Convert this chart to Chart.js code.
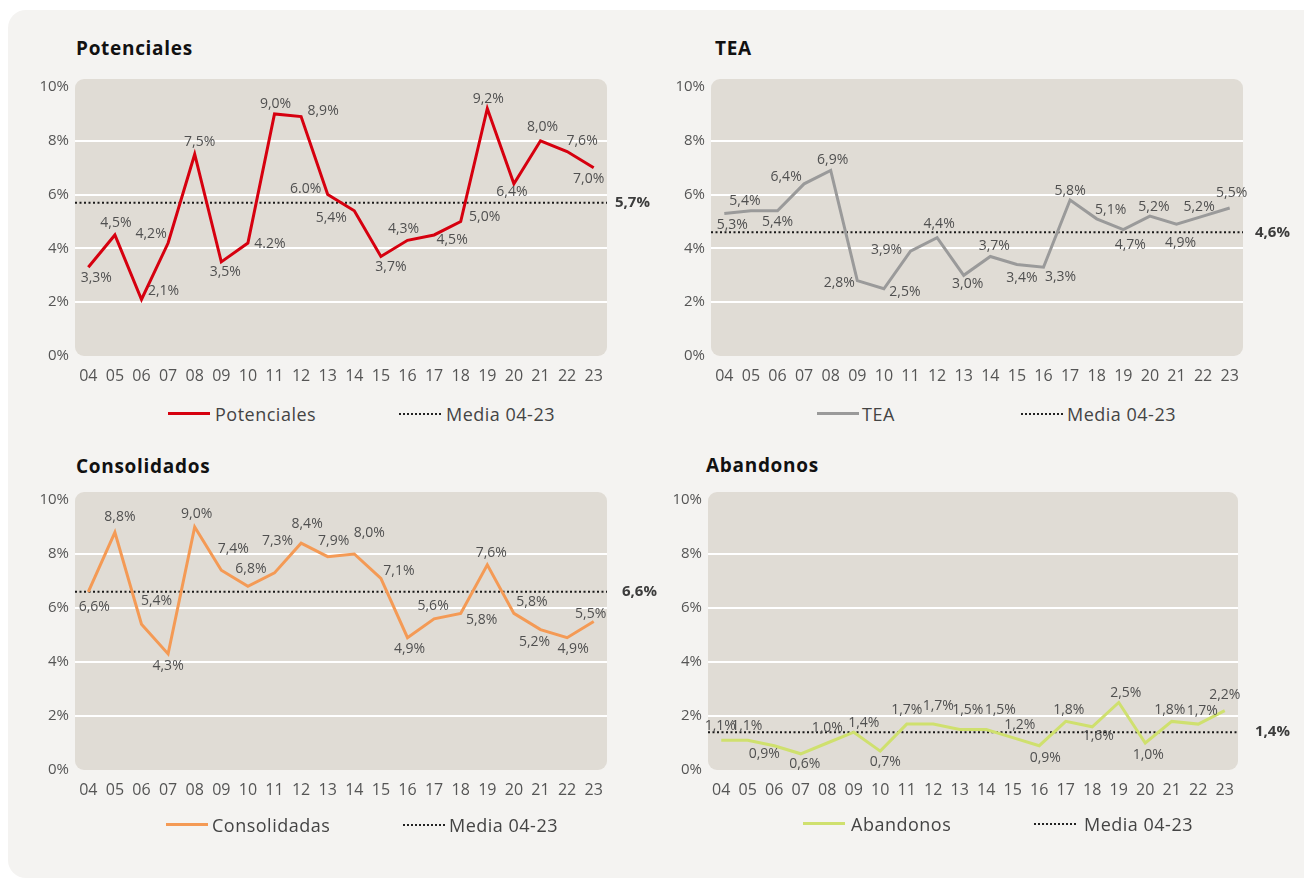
<!DOCTYPE html>
<html>
<head>
<meta charset="utf-8">
<script src="https://cdn.jsdelivr.net/npm/chart.js@4.4.1/dist/chart.umd.min.js"></script>
<style>
  body { margin: 0; width: 1304px; height: 881px; overflow: hidden; background: #fff; position: relative; font-family: 'Open Sans', sans-serif; }
  .card { position: absolute; left: 8px; top: 10px; width: 1320px; height: 868px; background: #f4f3f1; border-radius: 18px; }
  .title { position: absolute; font-weight: 700; font-size: 19px; letter-spacing: .7px; color: #111; height: 24px; line-height: 24px; }
  .lg-text { position: absolute; font-size: 18px; letter-spacing: .5px; color: #444; height: 24px; line-height: 24px; white-space: nowrap; }
  .lg-line { position: absolute; height: 3px; }
  .lg-dot { position: absolute; height: 0; border-top: 2px dotted #222; }
  canvas { position: absolute; }
</style>
</head>
<body>
<div class="card"></div>

<div class="title" style="left:76px;top:36px">Potenciales</div>
<div class="title" style="left:715px;top:36px">TEA</div>
<div class="title" style="left:76px;top:454px">Consolidados</div>
<div class="title" style="left:706px;top:453px">Abandonos</div>

<canvas id="c1"></canvas>
<canvas id="c2"></canvas>
<canvas id="c3"></canvas>
<canvas id="c4"></canvas>

<!-- legends -->
<div class="lg-line" style="left:168px;top:412px;width:42px;background:#d6000f"></div>
<div class="lg-text" style="left:215px;top:402px">Potenciales</div>
<div class="lg-dot" style="left:399px;top:413px;width:42px"></div>
<div class="lg-text" style="left:446px;top:402px">Media 04-23</div>

<div class="lg-line" style="left:817px;top:412px;width:42px;background:#9a9a9a"></div>
<div class="lg-text" style="left:862px;top:402px">TEA</div>
<div class="lg-dot" style="left:1021px;top:413px;width:42px"></div>
<div class="lg-text" style="left:1067px;top:402px">Media 04-23</div>

<div class="lg-line" style="left:166px;top:823px;width:42px;background:#f49a55"></div>
<div class="lg-text" style="left:212px;top:813px">Consolidadas</div>
<div class="lg-dot" style="left:403px;top:824px;width:42px"></div>
<div class="lg-text" style="left:449px;top:813px">Media 04-23</div>

<div class="lg-line" style="left:803px;top:822px;width:42px;background:#cfe06e"></div>
<div class="lg-text" style="left:851px;top:812px">Abandonos</div>
<div class="lg-dot" style="left:1034px;top:823px;width:42px"></div>
<div class="lg-text" style="left:1084px;top:812px">Media 04-23</div>

<script>
// categories (years 2004-2023)
const years = ['04','05','06','07','08','09','10','11','12','13','14','15','16','17','18','19','20','21','22','23'];
const yTicks = [0, 2, 4, 6, 8, 10];

// series values (%)
const potenciales = [3.3, 4.5, 2.1, 4.2, 7.5, 3.5, 4.2, 9.0, 8.9, 6.0, 5.4, 3.7, 4.3, 4.5, 5.0, 9.2, 6.4, 8.0, 7.6, 7.0];
const tea = [5.3, 5.4, 5.4, 6.4, 6.9, 2.8, 2.5, 3.9, 4.4, 3.0, 3.7, 3.4, 3.3, 5.8, 5.1, 4.7, 5.2, 4.9, 5.2, 5.5];
const consolidadas = [6.6, 8.8, 5.4, 4.3, 9.0, 7.4, 6.8, 7.3, 8.4, 7.9, 8.0, 7.1, 4.9, 5.6, 5.8, 7.6, 5.8, 5.2, 4.9, 5.5];
const abandonos = [1.1, 1.1, 0.9, 0.6, 1.0, 1.4, 0.7, 1.7, 1.7, 1.5, 1.5, 1.2, 0.9, 1.8, 1.6, 2.5, 1.0, 1.8, 1.7, 2.2];

// averages 04-23
const mediaPot = 5.7;
const mediaTea = 4.6;
const mediaCon = 6.6;
const mediaAba = 1.4;

// the source writes two of the labels with a dot instead of a comma
const potDotLabels = [6, 9];

// label placement relative to each point [dx, dy]
const potOff = [[8,11],[1,-12],[22,-8],[-17,-9],[5,-12],[4,10],[22,1],[1,-10],[22,-6],[-22,-6],[-23,7],[10,11],[-4,-11],[18,5],[24,-4],[1,-10],[-2,8],[2,-14],[15,-11],[-5,11]];
const teaOff = [[8,12],[-6,-10],[0,11],[-18,-7],[2,-10],[-18,2],[21,3],[-24,-1],[2,-14],[4,9],[4,-10],[5,13],[17,10],[0,-9],[14,-9],[7,15],[4,-9],[4,19],[-4,-9],[2,-15]];
const conOff = [[6,15],[5,-15],[15,-23],[0,12],[2,-13],[12,-21],[3,-17],[3,-32],[6,-19],[6,-16],[15,-21],[18,-7],[2,11],[-1,-13],[21,7],[4,-12],[18,-11],[-6,12],[6,11],[-3,-7]];
const abaOff = [[-1,-14],[-1,-14],[-10,8],[4,10],[0,-15],[10,-9],[5,11],[0,-14],[5,-18],[8,-19],[14,-19],[7,-13],[6,12],[3,-11],[6,9],[7,-9],[3,12],[-2,-11],[4,-13],[0,-16]];

Chart.defaults.font.family = "'Open Sans', sans-serif";

const fmt = (v, dot) => v.toFixed(1).replace('.', dot ? '.' : ',') + '%';

function makeChart(id, area, values, color, media, offsets, mediaGap, dotIdx = []) {
    const padL = 60, padT = 30, padR = 80, padB = 45;
    const canvas = document.getElementById(id);
    canvas.width = (area.right - area.left) + padL + padR;
    canvas.height = (area.bottom - area.top) + padT + padB;
    canvas.style.left = (area.left - padL) + 'px';
    canvas.style.top = (area.top - padT) + 'px';

    const panel = {
        id: 'panel',
        beforeDraw(chart) {
            const { ctx, chartArea: a } = chart;
            ctx.save();
            ctx.fillStyle = '#e0dcd5';
            ctx.beginPath();
            ctx.roundRect(a.left, a.top - 8, a.right - a.left, a.bottom - a.top + 8, 9);
            ctx.fill();
            ctx.restore();
        }
    };

    const mediaLine = {
        id: 'mediaLine',
        beforeDatasetsDraw(chart) {
            const { ctx, chartArea: a } = chart;
            const y = chart.scales.y.getPixelForValue(media);
            ctx.save();
            ctx.strokeStyle = '#1a1a1a';
            ctx.lineWidth = 2;
            ctx.setLineDash([2, 2.5]);
            ctx.beginPath();
            ctx.moveTo(a.left, y);
            ctx.lineTo(a.right, y);
            ctx.stroke();
            ctx.restore();
        },
        afterDraw(chart) {
            const { ctx, chartArea: a } = chart;
            const y = chart.scales.y.getPixelForValue(media);
            ctx.save();
            ctx.font = "bold 15px 'Open Sans'";
            ctx.fillStyle = '#3c3c3c';
            ctx.textAlign = 'left';
            ctx.textBaseline = 'middle';
            ctx.fillText(fmt(media), a.right + mediaGap, y);
            ctx.restore();
        }
    };

    const pointLabels = {
        id: 'pointLabels',
        afterDatasetsDraw(chart) {
            const ctx = chart.ctx;
            const meta = chart.getDatasetMeta(0);
            ctx.save();
            ctx.font = "14px 'Open Sans'";
            ctx.fillStyle = '#505050';
            ctx.textAlign = 'center';
            ctx.textBaseline = 'middle';
            meta.data.forEach((pt, i) => {
                const [dx, dy] = offsets[i];
                ctx.fillText(fmt(values[i], dotIdx.includes(i)), pt.x + dx, pt.y + dy);
            });
            ctx.restore();
        }
    };

    return new Chart(canvas, {
        type: 'line',
        data: {
            labels: years,
            datasets: [{
                data: values,
                borderColor: color,
                borderWidth: 3,
                pointRadius: 0,
                tension: 0
            }]
        },
        options: {
            responsive: false,
            animation: false,
            layout: { padding: { left: 0, top: padT, right: padR, bottom: padB - 30 } },
            plugins: { legend: { display: false }, tooltip: { enabled: false } },
            scales: {
                x: {
                    offset: true,
                    grid: { display: false, drawTicks: false },
                    border: { display: false },
                    ticks: { padding: 11, color: '#555', font: { size: 16 }, autoSkip: false, maxRotation: 0 },
                    afterFit: s => { s.height = 30; }
                },
                y: {
                    min: 0,
                    max: 10,
                    afterBuildTicks: s => { s.ticks = yTicks.map(v => ({ value: v })); },
                    ticks: { padding: 6, color: '#555', font: { size: 15 }, callback: v => v + '%' },
                    grid: {
                        drawTicks: false,
                        lineWidth: 2,
                        color: c => (c.tick.value > 0 && c.tick.value < 10) ? '#ffffff' : 'rgba(0,0,0,0)'
                    },
                    border: { display: false },
                    afterFit: s => { s.width = padL; }
                }
            }
        },
        plugins: [panel, mediaLine, pointLabels]
    });
}

makeChart('c1', { left: 75, top: 87, right: 607, bottom: 356 }, potenciales, '#d6000f', mediaPot, potOff, 8, potDotLabels);
makeChart('c2', { left: 711, top: 87, right: 1243, bottom: 356 }, tea, '#9a9a9a', mediaTea, teaOff, 12);
makeChart('c3', { left: 75, top: 500, right: 607, bottom: 770 }, consolidadas, '#f49a55', mediaCon, conOff, 15);
makeChart('c4', { left: 708, top: 500, right: 1238, bottom: 770 }, abandonos, '#cfe06e', mediaAba, abaOff, 17);
</script>
</body>
</html>
